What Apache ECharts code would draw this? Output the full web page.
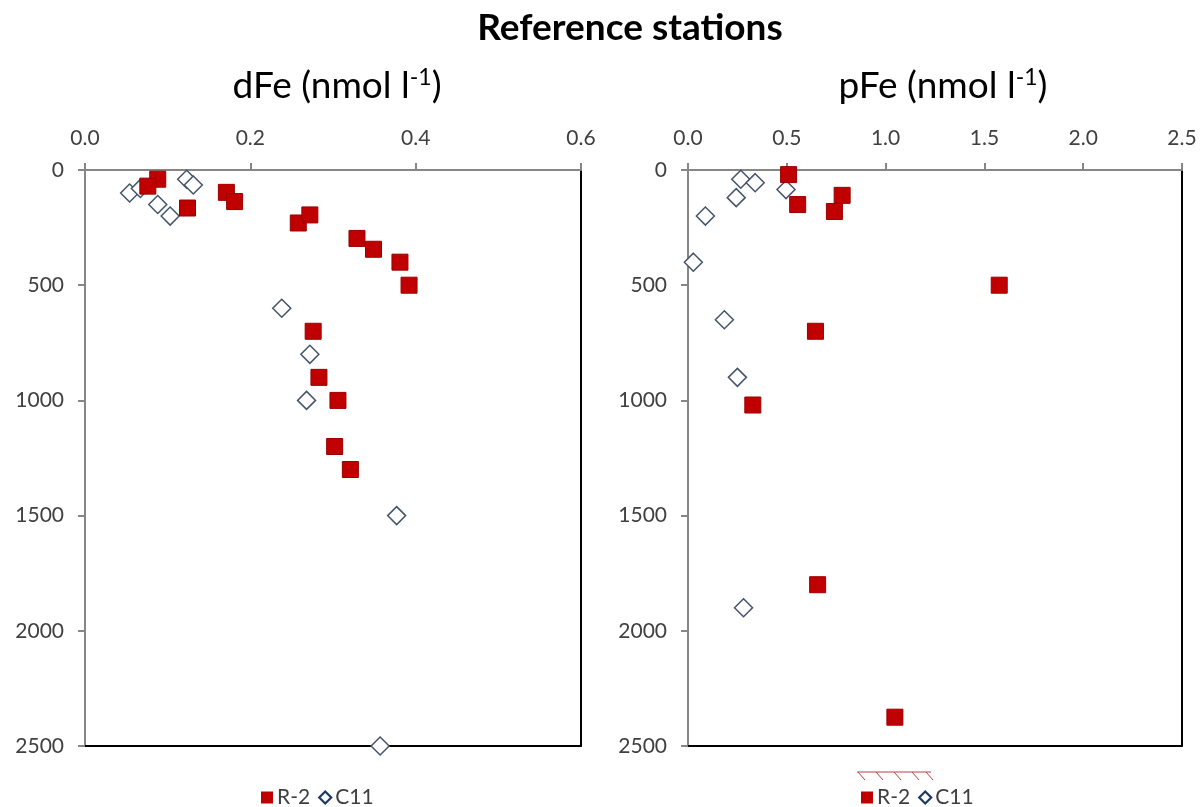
<!DOCTYPE html>
<html>
<head>
<meta charset="utf-8">
<script src="https://cdn.jsdelivr.net/npm/echarts@6/dist/echarts.min.js"></script>
<style>
  html, body { margin: 0; padding: 0; background: #fff; }
  #chart { width: 1200px; height: 807px; }
</style>
</head>
<body>
<div id="chart"></div>
<script>
// Depth profiles of dissolved and particulate iron at the reference stations
const depthTicks = [0, 500, 1000, 1500, 2000, 2500];
const dFeTicks = [0.0, 0.2, 0.4, 0.6];
const pFeTicks = [0.0, 0.5, 1.0, 1.5, 2.0, 2.5];
const stations = ['R-2', 'C11'];

// dFe (nmol l-1)
const dFeR2Value = [0.088, 0.076, 0.124, 0.171, 0.181, 0.258, 0.272, 0.329, 0.349, 0.381, 0.392, 0.276, 0.283, 0.306, 0.302, 0.321];
const dFeR2Depth = [40, 70, 165, 97, 137, 230, 195, 297, 344, 400, 500, 700, 900, 1000, 1200, 1300];
const dFeC11Value = [0.054, 0.067, 0.123, 0.131, 0.088, 0.103, 0.238, 0.272, 0.268, 0.377, 0.357];
const dFeC11Depth = [100, 80, 40, 65, 150, 200, 600, 800, 1000, 1500, 2500];

// pFe (nmol l-1)
const pFeR2Value = [0.509, 0.555, 0.780, 0.741, 1.575, 0.645, 0.328, 0.656, 1.047];
const pFeR2Depth = [20, 150, 110, 180, 500, 700, 1020, 1800, 2375];
const pFeC11Value = [0.267, 0.340, 0.496, 0.244, 0.088, 0.027, 0.184, 0.250, 0.281];
const pFeC11Depth = [40, 55, 85, 120, 200, 400, 650, 900, 1900];

const FONT = 'Lato';
const GREY_AXIS = '#868686';
const LABEL = '#404040';
const RED = '#c00000';
const NAVY = '#1f3864';

function pairs(values, depths) {
  return values.map((v, i) => [v, depths[i]]);
}

function valueAxis(gridIndex, ticks) {
  return {
    type: 'value', gridIndex: gridIndex, position: 'top',
    min: ticks[0], max: ticks[ticks.length - 1], interval: ticks[1] - ticks[0],
    axisLine: { show: true, onZero: false, lineStyle: { color: GREY_AXIS, width: 2 } },
    axisTick: { show: true, inside: false, length: 7, lineStyle: { color: GREY_AXIS, width: 2 } },
    axisLabel: { margin: 21, color: LABEL, fontFamily: FONT, fontSize: 21,
                 formatter: v => v.toFixed(1) },
    splitLine: { show: false }
  };
}
function frameXAxis(gridIndex, ticks) {
  return {
    type: 'value', gridIndex: gridIndex, position: 'bottom',
    min: ticks[0], max: ticks[ticks.length - 1],
    axisLine: { show: true, onZero: false, lineStyle: { color: '#000', width: 2 } },
    axisTick: { show: false }, axisLabel: { show: false }, splitLine: { show: false }
  };
}
function depthAxis(gridIndex) {
  return {
    type: 'value', gridIndex: gridIndex, position: 'left', inverse: true,
    min: depthTicks[0], max: depthTicks[depthTicks.length - 1], interval: depthTicks[1] - depthTicks[0],
    axisLine: { show: true, onZero: false, lineStyle: { color: GREY_AXIS, width: 2 } },
    axisTick: { show: true, inside: false, length: 7, lineStyle: { color: GREY_AXIS, width: 2 } },
    axisLabel: { margin: 21, color: LABEL, fontFamily: FONT, fontSize: 21,
                 formatter: v => String(v) },
    splitLine: { show: false }
  };
}
function frameYAxis(gridIndex) {
  return {
    type: 'value', gridIndex: gridIndex, position: 'right', inverse: true,
    min: depthTicks[0], max: depthTicks[depthTicks.length - 1],
    axisLine: { show: true, onZero: false, lineStyle: { color: '#000', width: 2 } },
    axisTick: { show: false }, axisLabel: { show: false }, splitLine: { show: false }
  };
}

const squareStyle = { color: RED, borderColor: '#9a0000', borderWidth: 1, opacity: 1 };
const diamondStyle = { color: '#fff', borderColor: '#44546a', borderWidth: 1.5, opacity: 1 };

function c11Series(xi, yi, data) {
  return { name: 'C11', type: 'scatter', xAxisIndex: xi, yAxisIndex: yi, data: data,
           symbol: 'diamond', symbolSize: 18, itemStyle: diamondStyle, z: 2 };
}
function r2Series(xi, yi, data) {
  return { name: 'R-2', type: 'scatter', xAxisIndex: xi, yAxisIndex: yi, data: data,
           symbol: 'rect', symbolSize: 16, itemStyle: squareStyle, z: 3 };
}

function legendAt(left) {
  return {
    left: left, top: 782, orient: 'horizontal',
    itemWidth: 12, itemHeight: 12, itemGap: 8,
    textStyle: { color: LABEL, fontFamily: FONT, fontSize: 21, padding: [0, 0, 0, -1] },
    selectedMode: false,
    data: [
      { name: stations[0], icon: 'rect', itemStyle: { color: RED, borderWidth: 0, opacity: 1 } },
      { name: stations[1], icon: 'diamond',
        itemStyle: { color: '#fff', borderColor: NAVY, borderWidth: 2.2, opacity: 1 } }
    ]
  };
}

// Short hatched stroke above the second legend
function hatchMark(x0, x1, y) {
  const els = [{ type: 'line', shape: { x1: x0, y1: y, x2: x1, y2: y },
                 style: { stroke: '#b8404a', lineWidth: 1.2 } }];
  [858, 876, 894, 912, 926].forEach(x => {
    els.push({ type: 'line', shape: { x1: x, y1: y, x2: x + 7, y2: y + 8 },
               style: { stroke: '#b8404a', lineWidth: 1 } });
  });
  return els;
}

const subRich = {
  base: { fontFamily: FONT, fontSize: 37, color: '#000' },
  sup: { fontFamily: FONT, fontSize: 23, color: '#000', padding: [0, 0, 16, 0] }
};

const chart = echarts.init(document.getElementById('chart'), null, { renderer: 'canvas' });
chart.setOption({
  backgroundColor: '#fff',
  animation: false,
  grid: [
    { left: 85, top: 170, width: 496, height: 576 },
    { left: 688, top: 170, width: 494, height: 576 }
  ],
  xAxis: [valueAxis(0, dFeTicks), frameXAxis(0, dFeTicks), valueAxis(1, pFeTicks), frameXAxis(1, pFeTicks)],
  yAxis: [depthAxis(0), frameYAxis(0), depthAxis(1), frameYAxis(1)],
  legend: [legendAt(256), legendAt(856)],
  series: [
    c11Series(0, 0, pairs(dFeC11Value, dFeC11Depth)),
    r2Series(0, 0, pairs(dFeR2Value, dFeR2Depth)),
    c11Series(2, 2, pairs(pFeC11Value, pFeC11Depth)),
    r2Series(2, 2, pairs(pFeR2Value, pFeR2Depth))
  ],
  graphic: [
    { type: 'text', x: 630, y: 28,
      style: { text: 'Reference stations', fontFamily: FONT, fontWeight: 'bold', fontSize: 37,
               fill: '#000', align: 'center', verticalAlign: 'middle' } },
    { type: 'text', x: 337, y: 86,
      style: { text: '{base|dFe (nmol l}{sup|-1}{base|)}', rich: subRich,
               align: 'center', verticalAlign: 'middle' } },
    { type: 'text', x: 943, y: 86,
      style: { text: '{base|pFe (nmol l}{sup|-1}{base|)}', rich: subRich,
               align: 'center', verticalAlign: 'middle' } }
  ].concat(hatchMark(857, 931, 772))
});
</script>
</body>
</html>
